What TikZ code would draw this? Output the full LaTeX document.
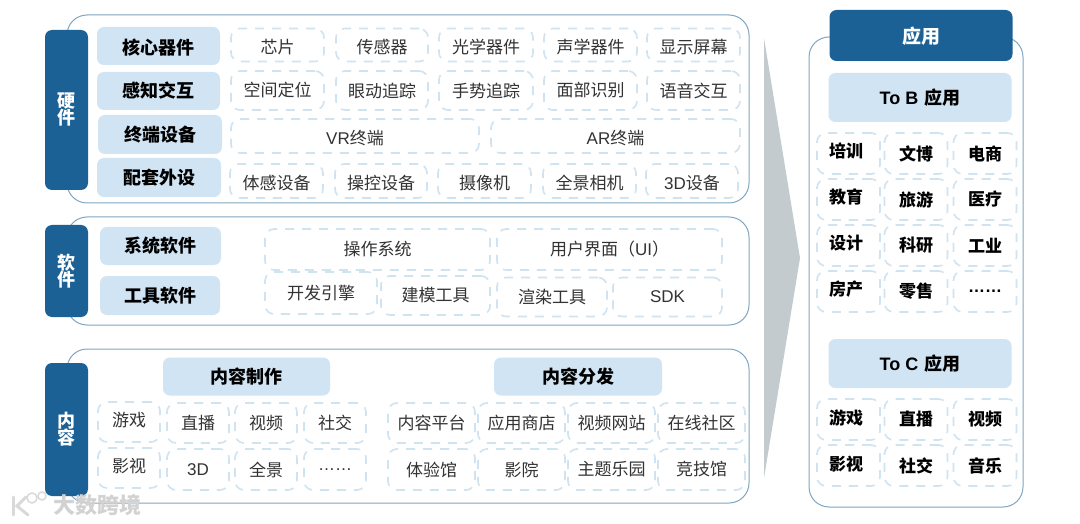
\documentclass[tikz,border=0pt]{standalone}
\usepackage{fontspec}
\setmainfont{Noto Sans CJK SC}
\newfontfamily\latfont{Liberation Sans}
\definecolor{barblue}{HTML}{1B6196}
\definecolor{headblue}{HTML}{D0E4F3}
\definecolor{dashblue}{HTML}{CFE3F1}
\definecolor{panelline}{HTML}{7FA6C2}
\definecolor{arrowgray}{HTML}{C3CBCF}
\definecolor{celltext}{HTML}{333333}
\newcommand{\lowtext}[1]{\raisebox{-2pt}[15pt][2pt]{#1}}
\newcommand{\hightext}[1]{\raisebox{2pt}[15pt][2pt]{#1}}
\newcommand{\lefttext}[1]{\raisebox{2pt}[15pt][2pt]{#1}\kern5pt}
\tikzset{
    panel/.style={draw=panelline,line width=1pt,fill=white,rounded corners=20pt},
    sidebar/.style={fill=barblue,rounded corners=7pt,text=white,align=center,inner sep=0pt,font=\fontsize{18}{20}\selectfont\bfseries},
    headbox/.style={fill=headblue,rounded corners=7pt,inner sep=0pt,font=\fontsize{18}{20}\selectfont\bfseries},
    cellbox/.style={draw=dashblue,line width=1.6pt,dash pattern=on 9pt off 8pt,rounded corners=9pt,inner sep=0pt,text=celltext,font=\fontsize{17}{20}\selectfont},
    appbox/.style={cellbox,text=black,font=\fontsize{17}{20}\selectfont\bfseries},
}
\begin{document}
\begin{tikzpicture}[x=1pt,y=-1pt]
    \useasboundingbox (0,0) rectangle (1080,524);

    % hardware
    \draw[panel] (67,15) rectangle (749,203);
    \node[sidebar,minimum width=43pt,minimum height=160pt] (hardware) at (66.5,110) {硬\\[-3pt]件};
    \node[headbox,minimum width=123pt,minimum height=38pt] (coreparts) at (158.5,46) {\lowtext{核心器件}};
    \node[headbox,minimum width=123pt,minimum height=38pt] (sensing) at (158.5,91) {感知交互};
    \node[headbox,minimum width=124pt,minimum height=39pt] (terminals) at (160,134.5) {终端设备};
    \node[headbox,minimum width=124pt,minimum height=39pt] (periphery) at (159,177.5) {配套外设};

    \node[cellbox,minimum width=93pt,minimum height=33pt] (chip) at (277.5,45) {\lowtext{芯片}};
    \node[cellbox,minimum width=92pt,minimum height=33pt] (sensor) at (382,45) {\lowtext{传感器}};
    \node[cellbox,minimum width=94pt,minimum height=33pt] (optics) at (486,45) {\lowtext{光学器件}};
    \node[cellbox,minimum width=93pt,minimum height=33pt] (acoustics) at (590.5,45) {\lowtext{声学器件}};
    \node[cellbox,minimum width=93pt,minimum height=33pt] (display) at (693.5,45) {\lowtext{显示屏幕}};

    \node[cellbox,minimum width=93pt,minimum height=39pt] (locate) at (277.5,90.5) {空间定位};
    \node[cellbox,minimum width=92pt,minimum height=39pt] (eyes) at (382,90.5) {眼动追踪};
    \node[cellbox,minimum width=94pt,minimum height=39pt] (hands) at (486,90.5) {手势追踪};
    \node[cellbox,minimum width=93pt,minimum height=39pt] (face) at (590.5,90.5) {面部识别};
    \node[cellbox,minimum width=93pt,minimum height=39pt] (voice) at (693.5,90.5) {语音交互};

    \node[cellbox,minimum width=248pt,minimum height=34pt] (vr) at (355,136) {\lowtext{{\latfont VR}终端}};
    \node[cellbox,minimum width=249pt,minimum height=34pt] (ar) at (615.5,136) {\lowtext{{\latfont AR}终端}};

    \node[cellbox,minimum width=93pt,minimum height=34pt] (motion) at (276.5,181) {\lowtext{体感设备}};
    \node[cellbox,minimum width=92pt,minimum height=34pt] (control) at (381,181) {\lowtext{操控设备}};
    \node[cellbox,minimum width=93pt,minimum height=34pt] (camera) at (484.5,181) {\lowtext{摄像机}};
    \node[cellbox,minimum width=93pt,minimum height=34pt] (panorama) at (589.5,181) {\lowtext{全景相机}};
    \node[cellbox,minimum width=92pt,minimum height=34pt] (threed) at (692,181) {\lowtext{{\latfont 3D}设备}};

    % software
    \draw[panel] (67,217) rectangle (749,325);
    \node[sidebar,minimum width=43pt,minimum height=92pt] (software) at (66.5,271) {软\\[-3pt]件};
    \node[headbox,minimum width=121pt,minimum height=38pt] (system) at (160.5,246) {系统软件};
    \node[headbox,minimum width=120pt,minimum height=39pt] (tools) at (160,295.5) {工具软件};

    \node[cellbox,minimum width=225pt,minimum height=41pt] (os) at (377.5,249.5) {操作系统};
    \node[cellbox,minimum width=225pt,minimum height=41pt] (ui) at (609.5,249.5) {用户界面（{\latfont UI}）};
    \node[cellbox,minimum width=112pt,minimum height=42pt] (engine) at (321,293) {开发引擎};
    \node[cellbox,minimum width=109pt,minimum height=39pt] (modeling) at (435.5,295.5) {建模工具};
    \node[cellbox,minimum width=110pt,minimum height=39pt] (render) at (552,297) {渲染工具};
    \node[cellbox,minimum width=109pt,minimum height=39pt] (sdk) at (667.5,297) {\latfont SDK};

    % content
    \draw[panel] (67,349) rectangle (749,503);
    \node[sidebar,minimum width=43pt,minimum height=133pt] (content) at (66.5,429.5) {内\\[-3pt]容};
    \node[headbox,minimum width=167pt,minimum height=38pt] (making) at (246.5,376.5) {内容制作};
    \node[headbox,minimum width=168pt,minimum height=38pt] (delivery) at (578,376.5) {内容分发};

    \node[cellbox,minimum width=62pt,minimum height=40pt] (game) at (129,422) {\hightext{游戏}};
    \node[cellbox,minimum width=62pt,minimum height=40pt] (live) at (198,423) {直播};
    \node[cellbox,minimum width=62pt,minimum height=40pt] (video) at (266,423) {视频};
    \node[cellbox,minimum width=62pt,minimum height=40pt] (social) at (335,423) {社交};
    \node[cellbox,minimum width=62pt,minimum height=40pt] (film) at (129,468) {\hightext{影视}};
    \node[cellbox,minimum width=62pt,minimum height=41pt] (threedvideo) at (198,469.5) {\latfont 3D};
    \node[cellbox,minimum width=62pt,minimum height=41pt] (panoview) at (266,469.5) {全景};
    \node[cellbox,minimum width=62pt,minimum height=41pt] (moremaking) at (335,469.5) {\latfont ……};

    \node[cellbox,minimum width=87pt,minimum height=40pt] (platform) at (431.5,423) {内容平台};
    \node[cellbox,minimum width=87pt,minimum height=40pt] (store) at (521.5,423) {应用商店};
    \node[cellbox,minimum width=87pt,minimum height=40pt] (website) at (611.5,423) {视频网站};
    \node[cellbox,minimum width=87pt,minimum height=40pt] (community) at (701.5,423) {在线社区};
    \node[cellbox,minimum width=87pt,minimum height=41pt] (hall) at (431.5,469.5) {体验馆};
    \node[cellbox,minimum width=87pt,minimum height=41pt] (cinema) at (521.5,469.5) {影院};
    \node[cellbox,minimum width=87pt,minimum height=41pt] (park) at (611.5,469.5) {主题乐园};
    \node[cellbox,minimum width=87pt,minimum height=41pt] (arena) at (701.5,469.5) {竞技馆};

    % arrow
    \fill[arrowgray] (764,38) -- (800,258) -- (764,478) -- cycle;

    % applications
    \draw[panel] (809,37) rectangle (1023,507);
    \node[sidebar,minimum width=183pt,minimum height=51pt,font=\fontsize{19}{20}\selectfont\bfseries] (apps) at (921,35.5) {\lowtext{应用}};
    \node[headbox,minimum width=183pt,minimum height=49pt] (tob) at (920,97.5) {{\latfont To\ B}\hspace{6pt}应用};
    \node[headbox,minimum width=183pt,minimum height=49pt] (toc) at (920,363.5) {{\latfont To\ C}\hspace{6pt}应用};

    \node[appbox,minimum width=63pt,minimum height=41pt] (training) at (848.5,153.5) {\lefttext{培训}};
    \node[appbox,minimum width=63pt,minimum height=41pt] (museum) at (916,153.5) {文博};
    \node[appbox,minimum width=63pt,minimum height=41pt] (ecommerce) at (985,153.5) {电商};
    \node[appbox,minimum width=63pt,minimum height=41pt] (education) at (848.5,199.5) {\lefttext{教育}};
    \node[appbox,minimum width=63pt,minimum height=41pt] (tourism) at (916,199.5) {旅游};
    \node[appbox,minimum width=63pt,minimum height=41pt] (medical) at (985,199.5) {医疗};
    \node[appbox,minimum width=63pt,minimum height=41pt] (design) at (848.5,245.5) {\lefttext{设计}};
    \node[appbox,minimum width=63pt,minimum height=41pt] (research) at (916,245.5) {科研};
    \node[appbox,minimum width=63pt,minimum height=41pt] (industry) at (985,245.5) {工业};
    \node[appbox,minimum width=63pt,minimum height=41pt] (estate) at (848.5,291.5) {\lefttext{房产}};
    \node[appbox,minimum width=63pt,minimum height=41pt] (retail) at (916,291.5) {零售};
    \node[appbox,minimum width=63pt,minimum height=41pt] (moreb) at (985,291.5) {\latfont ……};

    \node[appbox,minimum width=63pt,minimum height=41pt] (cgame) at (848.5,419.5) {\lefttext{游戏}};
    \node[appbox,minimum width=63pt,minimum height=41pt] (clive) at (916,419.5) {直播};
    \node[appbox,minimum width=63pt,minimum height=41pt] (cvideo) at (985,419.5) {视频};
    \node[appbox,minimum width=63pt,minimum height=41pt] (cfilm) at (848.5,465.5) {\lefttext{影视}};
    \node[appbox,minimum width=63pt,minimum height=41pt] (csocial) at (916,465.5) {社交};
    \node[appbox,minimum width=63pt,minimum height=41pt] (cmusic) at (985,465.5) {音乐};

    % watermark
    \node[text=gray!35,font=\fontsize{22}{24}\selectfont\bfseries,inner sep=0pt] (mark) at (97,505) {大数跨境};
    \draw[gray!30,line width=3pt,line cap=round] (13,497) -- (13,515);
    \draw[gray!30,line width=3pt,line cap=round] (26,497) -- (17,506) -- (28,515);
    \draw[gray!30,line width=1.5pt] (32,498) circle (5pt);
    \draw[gray!30,line width=1.5pt] (42,496) circle (4pt);
\end{tikzpicture}
\end{document}
